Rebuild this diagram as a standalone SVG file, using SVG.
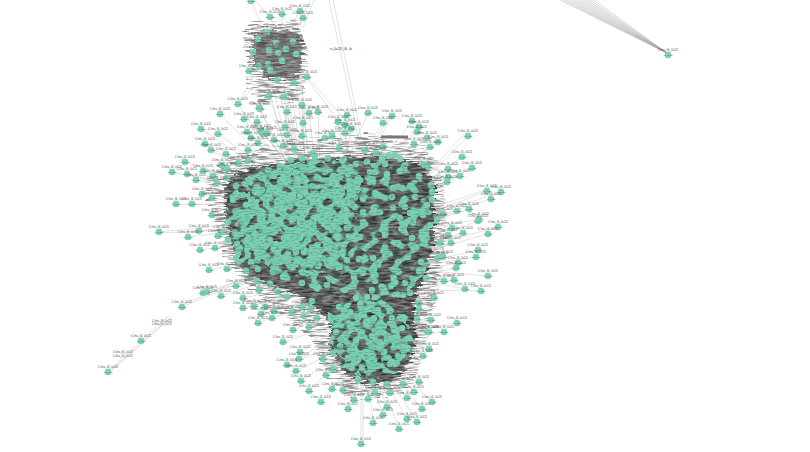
<svg xmlns="http://www.w3.org/2000/svg" width="810" height="452" viewBox="0 0 810 452">
<style>
text{font-family:"Liberation Sans",Arial,sans-serif;text-anchor:middle}
.t{font-size:2.6px;fill:#555}
.c{font-size:2.4px;fill:#3a6a5c}
.e{fill:none;stroke:#cacaca;stroke-width:.55}
.f{fill:none;stroke:#999;stroke-width:.4}
.d{fill:none;stroke:#7bd0b6;stroke-width:6.6;stroke-linecap:round}
</style>
<defs>
<g id="d"><circle r="3.3" fill="#7bd0b6"/><text class="t" y="-4.4">0.1ma_06_4x125</text><text class="c" y=".8">rs_4x12</text></g>
<filter id="hair" x="-15%" y="-15%" width="130%" height="130%" color-interpolation-filters="sRGB">
<feTurbulence type="fractalNoise" baseFrequency=".09 .45" numOctaves="3" seed="4" result="n"/>
<feDisplacementMap in="SourceGraphic" in2="n" scale="14" xChannelSelector="R" yChannelSelector="G" result="s"/>
<feColorMatrix in="n" type="matrix" values=".7 0 0 0 .02 .7 0 0 0 .02 .7 0 0 0 .02 0 0 0 0 1" result="g"/>
<feComposite in="g" in2="s" operator="in"/>
</filter>
<filter id="halo" x="-15%" y="-15%" width="130%" height="130%" color-interpolation-filters="sRGB">
<feTurbulence type="fractalNoise" baseFrequency=".07 .7" numOctaves="2" seed="9" result="n"/>
<feDisplacementMap in="SourceGraphic" in2="n" scale="20" xChannelSelector="R" yChannelSelector="G" result="s"/>
<feColorMatrix in="n" type="matrix" values="0 0 0 0 .55 0 0 0 0 .55 0 0 0 0 .55 4 0 0 0 -1.7" result="g"/>
<feComposite in="g" in2="s" operator="in"/>
</filter>
<filter id="tealA" x="-12%" y="-12%" width="124%" height="124%" color-interpolation-filters="sRGB">
<feTurbulence type="fractalNoise" baseFrequency=".12 .14" numOctaves="1" seed="7" result="n"/>
<feDisplacementMap in="SourceAlpha" in2="n" scale="22" xChannelSelector="G" yChannelSelector="B" result="s"/>
<feColorMatrix in="n" type="matrix" values="0 0 0 0 .482 0 0 0 0 .816 0 0 0 0 .714 14 0 0 0 -6.1" result="g"/>
<feComposite in="g" in2="s" operator="in"/>
</filter>
<filter id="tealB" x="-12%" y="-12%" width="124%" height="124%" color-interpolation-filters="sRGB">
<feTurbulence type="fractalNoise" baseFrequency=".1 .12" numOctaves="1" seed="21" result="n"/>
<feDisplacementMap in="SourceAlpha" in2="n" scale="18" xChannelSelector="G" yChannelSelector="B" result="s"/>
<feColorMatrix in="n" type="matrix" values="0 0 0 0 .482 0 0 0 0 .816 0 0 0 0 .714 14 0 0 0 -7.2" result="g"/>
<feComposite in="g" in2="s" operator="in"/>
</filter>
<filter id="streak" x="0" y="0" width="100%" height="100%" color-interpolation-filters="sRGB">
<feTurbulence type="fractalNoise" baseFrequency=".2 .95" numOctaves="2" seed="12" result="n"/>
<feColorMatrix in="n" type="matrix" values="0 0 0 0 .2 0 0 0 0 .4 0 0 0 0 .35 4 0 0 0 -1.9" result="g"/>
<feComposite in="g" in2="SourceAlpha" operator="in"/>
</filter>
</defs>
<rect width="810" height="452" fill="#fff"/>
<g id="connectors">
<path class="f" d="M667 53L560 0M667 53L563 0M667 53L566 0M667 53L569 0M667 53L572 0M667 53L575 0M667 53L578 0M667 53L581 0M667 53L584 0M667 53L587 0M667 53L590 0M667 53L594 0"/>
<path class="e" d="M329 0L353 110L358 138M333 0L356 110L361 138M307 77L350 125M307 79L345 130M251 1L265 32M310 0L300 25M314 0L303 28M270 17L282 40M303 18L290 40M282 14L280 40M300 11L285 38M255 0L272 20
M272 85L292 165M278 85L296 165M284 85L300 165M290 85L303 165M296 85L306 165M302 85L309 165M268 85L288 160M280 95L298 160M288 95L300 160M249 71L272 50M259 66L238 104M270 70L238 104M277 80L259 108M269 96L290 160M284 97L296 160M302 105L305 160M259 108L285 160
M238 104L285 170M260 109L290 170M220 114L280 175M244 119L285 170M257 122L290 170M201 129L270 175M218 134L275 175M247 132L285 170M251 138L290 172M261 131L295 170M263 134L295 170M267 133L300 170M258 143L290 175M205 144L265 180M211 150L265 182M226 154L270 180M248 150L285 175M185 162L260 185M172 172L255 190M187 174L255 190M196 180L250 190M203 171L255 185M222 165L265 185M176 204L250 205M192 204L250 205M202 194L245 200M212 198L250 205M212 215L245 215M287 112L300 165M302 105L310 165M309 113L315 165M318 112L320 165M303 123L305 165M285 127L305 170M287 135L305 170
M368 113L345 165M392 116L365 165M389 118L360 165M347 115L355 165M383 123L355 165M412 121L375 170M338 122L345 165M345 125L350 165M351 129L345 165M419 127L380 165M417 132L380 165M345 133L348 165M332 136L335 165M427 138L385 175M438 142L390 175M430 147L390 175M414 144L385 170M468 136L420 185M464 134L418 185M462 157L415 190M428 167L400 185M448 169L410 190M472 168L420 195M448 177L405 195M460 176L415 200M447 182L410 195M431 185L405 200M487 191L425 215M485 190L425 210M501 192L430 215M491 199L425 220M457 211L420 225M469 209L420 225M443 214L415 225M479 219L420 230M432 192L405 205
M159 232L225 225M159 233L225 230M199 231L230 228M188 237L230 232M218 236L240 232M223 232L240 230M200 250L235 245M215 248L240 245M209 270L250 262M227 269L255 265M246 271L265 265M203 293L270 270M207 292L275 275M221 296L285 275M236 286L285 275M257 281L290 270M270 284L300 275M259 290L300 280M182 307L265 272M180 306L262 270M243 298L305 285M254 306L310 285M243 308L310 290M265 307L315 290M261 314L325 295M274 311L330 295M272 318L335 295M258 323L325 300M278 292L320 285M287 297L325 290M292 312L335 300M302 307L335 300M304 316L335 305M293 330L340 310M309 327L340 315M317 318L345 310M283 277L310 275
M108 372L141 341M109 373L142 343M141 341L170 315M142 342L172 317M112 370L162 325
M498 227L430 245M488 234L430 250M478 221L430 240M463 233L425 245M452 228L420 240M448 235L425 250M451 243L425 255M440 243L420 250M437 220L420 235M478 250L425 262M476 257L425 265M458 263L420 270M456 268L420 275M443 257L420 265M438 258L420 268M488 276L420 270M465 289L420 280M454 280L420 280M444 281L420 285M481 291L420 290M426 278L415 282M434 298L415 300M419 303L410 305M419 309L410 310M417 319L410 320M431 320L410 325M457 323L415 330M444 332L415 335M429 332L412 335M434 298L425 278M434 298L419 309M434 298L417 319
M283 342L335 325M300 352L335 330M299 359L335 335M323 359L340 340M333 353L345 340M287 365L335 345M296 371L338 350M301 381L340 355M309 391L345 355M326 375L345 360M333 369L350 355M321 402L350 365M332 389L352 365M343 390L355 370M358 380L362 370M348 409L358 375M354 400L360 372M368 399L365 372M375 393L370 372M387 407L372 372M383 415L370 375M373 423L368 378M361 444L361 375M363 444L363 375M399 429L378 370M407 419L380 370M417 422L385 370M422 409L390 368M432 402L395 365M407 398L385 370M414 392L390 365M390 393L380 370M387 384L378 370M403 384L388 365M419 382L395 360M373 382L368 372M429 349L405 340M423 356L405 345M408 348L402 342M428 332L405 332"/>
</g>
<g id="mass">
<path fill="#888" filter="url(#halo)" d="M205 180L240 155L290 142L370 135L425 145L445 180L447 240L440 285L428 340L418 378L395 395L350 395L328 372L312 335L255 292L225 255Z"/>
<path fill="#555" filter="url(#hair)" d="M225 182L252 168L300 160L380 155L418 162L434 185L434 235L428 272L414 298L416 342L408 368L390 382L365 384L345 372L330 350L330 322L300 296L262 280L240 268L230 240L224 205Z"/>
<path fill="#888" filter="url(#halo)" d="M250 24L300 22L310 50L306 92L295 100L260 100L248 85L252 60L245 40Z"/>
<path fill="#666" filter="url(#hair)" opacity=".75" d="M253 32L298 30L304 50L298 78L264 78L253 60Z"/>
<rect x="381" y="135.500" width="27" height="3" fill="#777"/>
<path filter="url(#tealB)" d="M345 168L400 155L432 190L436 232L425 270L405 296L340 300L310 290L290 280L250 268L232 245L228 205L245 175Z"/>
<path id="dense" filter="url(#tealA)" d="M252 176L300 160L348 164L362 185L356 205L350 240L342 264L312 276L285 270L258 264L243 245L237 225L245 198Z"/>
<path filter="url(#tealA)" d="M345 303L387 301L410 325L412 350L397 370L370 380L345 367L330 340L328 320Z"/>
<path class="d" d="M262 178h.01M250 182h.01M236 186h.01M243 195h.01M255 192h.01M233 200h.01M246 205h.01M256 207h.01M238 215h.01M228 222h.01M243 222h.01M252 228h.01M236 235h.01M228 240h.01M247 240h.01M240 248h.01M258 243h.01M248 255h.01M258 258h.01M236 258h.01M268 170h.01M280 166h.01M291 160h.01M302 158h.01M315 156h.01M328 158h.01M342 160h.01M237 244h.01M238 253h.01M256 246h.01M257 253h.01M251 262h.01M238 262h.01M258 269h.01M273 272h.01M279 257h.01M288 263h.01M302 283h.01M317 288h.01M327 285h.01M302 272h.01M263 240h.01M235 233h.01M241 234h.01
M370 172h.01M375 172h.01M367 162h.01M356 164h.01M350 167h.01M382 158h.01M385 164h.01M389 156h.01M395 155h.01M400 159h.01M387 174h.01M373 182h.01M370 182h.01M358 178h.01M352 182h.01M340 177h.01M333 183h.01M357 190h.01M342 193h.01M393 188h.01M402 188h.01M410 186h.01M375 193h.01M392 197h.01M363 199h.01M355 207h.01M380 212h.01M393 208h.01M405 207h.01M415 197h.01M432 200h.01M427 205h.01M410 213h.01M400 218h.01M423 215h.01M373 212h.01M363 212h.01M347 213h.01M363 222h.01M347 228h.01M360 237h.01M385 235h.01M365 248h.01M385 247h.01M402 223h.01M413 223h.01M427 228h.01M430 225h.01M422 232h.01M412 238h.01M398 243h.01M385 257h.01M373 258h.01M359 259h.01M347 260h.01M337 255h.01M363 273h.01M354 277h.01M375 281h.01M394 278h.01M398 272h.01M405 283h.01M391 286h.01M372 290h.01M367 297h.01M356 298h.01M339 307h.01M403 295h.01M410 293h.01M378 265h.01M398 262h.01M408 257h.01M340 267h.01
M268 185h.01M280 180h.01M296 172h.01M310 170h.01M325 172h.01M340 170h.01M270 198h.01M284 194h.01M298 188h.01M312 186h.01M328 184h.01M262 212h.01M276 210h.01M290 206h.01M305 202h.01M320 200h.01M336 200h.01M264 226h.01M278 224h.01M300 222h.01M314 218h.01M330 216h.01M270 240h.01M284 238h.01M300 238h.01M316 232h.01M332 230h.01M278 252h.01M296 252h.01M312 248h.01M328 244h.01M305 262h.01M322 258h.01M262 190h.01M274 176h.01M288 174h.01M304 178h.01M318 178h.01M334 176h.01M348 174h.01M350 190h.01M344 206h.01M340 222h.01M338 238h.01M334 252h.01M318 266h.01M296 264h.01M268 262h.01M254 236h.01M250 216h.01M252 200h.01M266 204h.01M282 202h.01M300 196h.01M316 194h.01M332 192h.01M272 216h.01M286 216h.01M306 212h.01M322 210h.01M268 232h.01M290 230h.01M308 228h.01M324 224h.01M276 244h.01M292 244h.01M308 240h.01M324 238h.01M288 254h.01M304 252h.01M320 250h.01
M338 318h.01M350 312h.01M364 310h.01M378 310h.01M392 318h.01M402 328h.01M336 332h.01M350 326h.01M366 322h.01M384 326h.01M402 342h.01M340 346h.01M356 340h.01M372 336h.01M390 338h.01M348 358h.01M366 352h.01M384 352h.01M398 356h.01M362 368h.01M378 366h.01M390 364h.01M352 368h.01M344 310h.01M358 318h.01M374 318h.01M394 330h.01M342 338h.01M362 332h.01M380 342h.01M396 346h.01M350 350h.01M372 346h.01M374 360h.01M358 360h.01"/>
<path filter="url(#streak)" opacity=".35" fill="#000" d="M232 165L345 155L430 170L438 240L410 296L300 285L240 265L226 210ZM332 305L390 303L412 330L405 366L370 380L340 365L328 325Z"/>
</g>
<g id="n1"><use href="#d" x="668" y="55"/></g><g id="n2"><use href="#d" x="108" y="372"/></g><g id="n3"><use href="#d" x="141" y="341"/></g>
<g id="n4"><use href="#d" x="238" y="104"/></g><g id="n5"><use href="#d" x="260" y="109"/></g><g id="n6"><use href="#d" x="220" y="114"/></g><g id="n7"><use href="#d" x="244" y="119"/></g><g id="n8"><use href="#d" x="257" y="122"/></g><g id="n9"><use href="#d" x="201" y="129"/></g><g id="n10"><use href="#d" x="218" y="134"/></g><g id="n11"><use href="#d" x="247" y="132"/></g><g id="n12"><use href="#d" x="251" y="138"/></g><g id="n13"><use href="#d" x="261" y="131"/></g><g id="n14"><use href="#d" x="263" y="134"/></g><g id="n15"><use href="#d" x="267" y="133"/></g><g id="n16"><use href="#d" x="258" y="143"/></g><g id="n17"><use href="#d" x="205" y="144"/></g><g id="n18"><use href="#d" x="211" y="150"/></g><g id="n19"><use href="#d" x="226" y="154"/></g><g id="n20"><use href="#d" x="248" y="150"/></g><g id="n21"><use href="#d" x="185" y="162"/></g><g id="n22"><use href="#d" x="172" y="172"/></g><g id="n23"><use href="#d" x="187" y="174"/></g><g id="n24"><use href="#d" x="196" y="180"/></g><g id="n25"><use href="#d" x="203" y="171"/></g><g id="n26"><use href="#d" x="222" y="165"/></g><g id="n27"><use href="#d" x="238" y="163"/></g><g id="n28"><use href="#d" x="248" y="161"/></g><g id="n29"><use href="#d" x="213" y="176"/></g><g id="n30"><use href="#d" x="227" y="169"/></g><g id="n31"><use href="#d" x="227" y="178"/></g><g id="n32"><use href="#d" x="217" y="183"/></g><g id="n33"><use href="#d" x="202" y="194"/></g><g id="n34"><use href="#d" x="212" y="198"/></g><g id="n35"><use href="#d" x="176" y="204"/></g><g id="n36"><use href="#d" x="192" y="204"/></g><g id="n37"><use href="#d" x="212" y="215"/></g>
<g id="n38"><use href="#d" x="302" y="105"/></g><g id="n39"><use href="#d" x="309" y="113"/></g><g id="n40"><use href="#d" x="318" y="112"/></g><g id="n41"><use href="#d" x="287" y="112"/></g><g id="n42"><use href="#d" x="303" y="123"/></g><g id="n43"><use href="#d" x="274" y="140"/></g><g id="n44"><use href="#d" x="283" y="146"/></g><g id="n45"><use href="#d" x="294" y="149"/></g><g id="n46"><use href="#d" x="302" y="136"/></g><g id="n47"><use href="#d" x="287" y="135"/></g><g id="n48"><use href="#d" x="285" y="127"/></g><g id="n49"><use href="#d" x="325" y="138"/></g><g id="n50"><use href="#d" x="313" y="153"/></g>
<g id="n51"><use href="#d" x="368" y="113"/></g><g id="n52"><use href="#d" x="392" y="116"/></g><g id="n53"><use href="#d" x="347" y="115"/></g><g id="n54"><use href="#d" x="383" y="123"/></g><g id="n55"><use href="#d" x="412" y="121"/></g><g id="n56"><use href="#d" x="338" y="122"/></g><g id="n57"><use href="#d" x="345" y="125"/></g><g id="n58"><use href="#d" x="351" y="129"/></g><g id="n59"><use href="#d" x="419" y="127"/></g><g id="n60"><use href="#d" x="417" y="132"/></g><g id="n61"><use href="#d" x="345" y="133"/></g><g id="n62"><use href="#d" x="332" y="136"/></g><g id="n63"><use href="#d" x="427" y="138"/></g><g id="n64"><use href="#d" x="438" y="142"/></g><g id="n65"><use href="#d" x="414" y="144"/></g><g id="n66"><use href="#d" x="430" y="147"/></g><g id="n67"><use href="#d" x="468" y="136"/></g><g id="n68"><use href="#d" x="339" y="148"/></g><g id="n69"><use href="#d" x="365" y="150"/></g><g id="n70"><use href="#d" x="383" y="147"/></g><g id="n71"><use href="#d" x="462" y="157"/></g><g id="n72"><use href="#d" x="376" y="153"/></g><g id="n73"><use href="#d" x="428" y="167"/></g><g id="n74"><use href="#d" x="424" y="164"/></g><g id="n75"><use href="#d" x="448" y="169"/></g><g id="n76"><use href="#d" x="472" y="168"/></g><g id="n77"><use href="#d" x="448" y="177"/></g><g id="n78"><use href="#d" x="460" y="176"/></g><g id="n79"><use href="#d" x="447" y="182"/></g><g id="n80"><use href="#d" x="419" y="176"/></g><g id="n81"><use href="#d" x="400" y="171"/></g><g id="n82"><use href="#d" x="431" y="185"/></g><g id="n83"><use href="#d" x="487" y="191"/></g><g id="n84"><use href="#d" x="501" y="192"/></g><g id="n85"><use href="#d" x="491" y="199"/></g><g id="n86"><use href="#d" x="457" y="211"/></g><g id="n87"><use href="#d" x="469" y="209"/></g><g id="n88"><use href="#d" x="443" y="214"/></g><g id="n89"><use href="#d" x="479" y="219"/></g><g id="n90"><use href="#d" x="432" y="192"/></g>
<g id="n91"><use href="#d" x="159" y="232"/></g><g id="n92"><use href="#d" x="199" y="231"/></g><g id="n93"><use href="#d" x="188" y="237"/></g><g id="n94"><use href="#d" x="218" y="236"/></g><g id="n95"><use href="#d" x="223" y="232"/></g><g id="n96"><use href="#d" x="200" y="250"/></g><g id="n97"><use href="#d" x="215" y="248"/></g><g id="n98"><use href="#d" x="209" y="270"/></g><g id="n99"><use href="#d" x="227" y="269"/></g><g id="n100"><use href="#d" x="246" y="271"/></g><g id="n101"><use href="#d" x="203" y="293"/></g><g id="n102"><use href="#d" x="207" y="292"/></g><g id="n103"><use href="#d" x="221" y="296"/></g><g id="n104"><use href="#d" x="236" y="286"/></g><g id="n105"><use href="#d" x="257" y="281"/></g><g id="n106"><use href="#d" x="270" y="284"/></g><g id="n107"><use href="#d" x="259" y="290"/></g><g id="n108"><use href="#d" x="182" y="307"/></g><g id="n109"><use href="#d" x="243" y="298"/></g><g id="n110"><use href="#d" x="254" y="306"/></g><g id="n111"><use href="#d" x="243" y="308"/></g><g id="n112"><use href="#d" x="265" y="307"/></g><g id="n113"><use href="#d" x="261" y="314"/></g><g id="n114"><use href="#d" x="274" y="311"/></g><g id="n115"><use href="#d" x="272" y="318"/></g><g id="n116"><use href="#d" x="258" y="323"/></g><g id="n117"><use href="#d" x="278" y="292"/></g><g id="n118"><use href="#d" x="287" y="297"/></g><g id="n119"><use href="#d" x="292" y="312"/></g><g id="n120"><use href="#d" x="302" y="307"/></g><g id="n121"><use href="#d" x="304" y="316"/></g><g id="n122"><use href="#d" x="293" y="330"/></g><g id="n123"><use href="#d" x="309" y="327"/></g><g id="n124"><use href="#d" x="317" y="318"/></g><g id="n125"><use href="#d" x="311" y="308"/></g><g id="n126"><use href="#d" x="312" y="301"/></g><g id="n127"><use href="#d" x="283" y="277"/></g>
<g id="n128"><use href="#d" x="498" y="227"/></g><g id="n129"><use href="#d" x="488" y="234"/></g><g id="n130"><use href="#d" x="478" y="221"/></g><g id="n131"><use href="#d" x="463" y="233"/></g><g id="n132"><use href="#d" x="452" y="228"/></g><g id="n133"><use href="#d" x="448" y="235"/></g><g id="n134"><use href="#d" x="451" y="243"/></g><g id="n135"><use href="#d" x="440" y="243"/></g><g id="n136"><use href="#d" x="437" y="220"/></g><g id="n137"><use href="#d" x="478" y="250"/></g><g id="n138"><use href="#d" x="476" y="257"/></g><g id="n139"><use href="#d" x="458" y="263"/></g><g id="n140"><use href="#d" x="456" y="268"/></g><g id="n141"><use href="#d" x="443" y="257"/></g><g id="n142"><use href="#d" x="438" y="258"/></g><g id="n143"><use href="#d" x="488" y="276"/></g><g id="n144"><use href="#d" x="465" y="289"/></g><g id="n145"><use href="#d" x="454" y="280"/></g><g id="n146"><use href="#d" x="444" y="281"/></g><g id="n147"><use href="#d" x="481" y="291"/></g><g id="n148"><use href="#d" x="426" y="278"/></g><g id="n149"><use href="#d" x="434" y="298"/></g><g id="n150"><use href="#d" x="419" y="303"/></g><g id="n151"><use href="#d" x="419" y="309"/></g><g id="n152"><use href="#d" x="417" y="319"/></g><g id="n153"><use href="#d" x="431" y="320"/></g><g id="n154"><use href="#d" x="457" y="323"/></g><g id="n155"><use href="#d" x="444" y="332"/></g><g id="n156"><use href="#d" x="429" y="332"/></g><g id="n157"><use href="#d" x="419" y="271"/></g><g id="n158"><use href="#d" x="421" y="262"/></g>
<g id="n159"><use href="#d" x="283" y="342"/></g><g id="n160"><use href="#d" x="300" y="352"/></g><g id="n161"><use href="#d" x="299" y="359"/></g><g id="n162"><use href="#d" x="323" y="359"/></g><g id="n163"><use href="#d" x="333" y="353"/></g><g id="n164"><use href="#d" x="287" y="365"/></g><g id="n165"><use href="#d" x="296" y="371"/></g><g id="n166"><use href="#d" x="301" y="381"/></g><g id="n167"><use href="#d" x="309" y="391"/></g><g id="n168"><use href="#d" x="326" y="375"/></g><g id="n169"><use href="#d" x="333" y="369"/></g><g id="n170"><use href="#d" x="321" y="402"/></g><g id="n171"><use href="#d" x="332" y="389"/></g><g id="n172"><use href="#d" x="343" y="390"/></g><g id="n173"><use href="#d" x="358" y="380"/></g><g id="n174"><use href="#d" x="348" y="409"/></g><g id="n175"><use href="#d" x="354" y="400"/></g><g id="n176"><use href="#d" x="368" y="399"/></g><g id="n177"><use href="#d" x="375" y="393"/></g><g id="n178"><use href="#d" x="387" y="407"/></g><g id="n179"><use href="#d" x="383" y="415"/></g><g id="n180"><use href="#d" x="373" y="423"/></g><g id="n181"><use href="#d" x="361" y="444"/></g><g id="n182"><use href="#d" x="399" y="429"/></g><g id="n183"><use href="#d" x="407" y="419"/></g><g id="n184"><use href="#d" x="417" y="422"/></g><g id="n185"><use href="#d" x="422" y="409"/></g><g id="n186"><use href="#d" x="432" y="402"/></g><g id="n187"><use href="#d" x="407" y="398"/></g><g id="n188"><use href="#d" x="414" y="392"/></g><g id="n189"><use href="#d" x="390" y="393"/></g><g id="n190"><use href="#d" x="387" y="384"/></g><g id="n191"><use href="#d" x="403" y="384"/></g><g id="n192"><use href="#d" x="419" y="382"/></g><g id="n193"><use href="#d" x="373" y="382"/></g><g id="n194"><use href="#d" x="429" y="349"/></g><g id="n195"><use href="#d" x="423" y="356"/></g><g id="n196"><use href="#d" x="408" y="348"/></g><g id="n197"><use href="#d" x="428" y="332"/></g>
<g id="n198"><use href="#d" x="251" y="1"/></g><g id="n199"><use href="#d" x="270" y="17"/></g><g id="n200"><use href="#d" x="282" y="14"/></g><g id="n201"><use href="#d" x="300" y="11"/></g><g id="n202"><use href="#d" x="303" y="18"/></g><g id="n203"><use href="#d" x="267" y="32"/></g><g id="n204"><use href="#d" x="258" y="39"/></g><g id="n205"><use href="#d" x="276" y="43"/></g><g id="n206"><use href="#d" x="293" y="42"/></g><g id="n207"><use href="#d" x="253" y="52"/></g><g id="n208"><use href="#d" x="269" y="50"/></g><g id="n209"><use href="#d" x="278" y="53"/></g><g id="n210"><use href="#d" x="286" y="49"/></g><g id="n211"><use href="#d" x="296" y="54"/></g><g id="n212"><use href="#d" x="282" y="61"/></g><g id="n213"><use href="#d" x="259" y="66"/></g><g id="n214"><use href="#d" x="268" y="64"/></g><g id="n215"><use href="#d" x="270" y="70"/></g><g id="n216"><use href="#d" x="249" y="71"/></g><g id="n217"><use href="#d" x="307" y="77"/></g><g id="n218"><use href="#d" x="277" y="80"/></g><g id="n219"><use href="#d" x="294" y="83"/></g><g id="n220"><use href="#d" x="269" y="96"/></g><g id="n221"><use href="#d" x="284" y="97"/></g><g id="n222"><use href="#d" x="259" y="108"/></g>
<text class="t" x="123" y="353">0.1ma_06_4x125</text><text class="t" x="123" y="357">0.4ma_06_4x125</text><text class="t" x="162" y="322">0.1ma_06_4x125</text><text class="t" x="162" y="325">0.4ma_06_4x125</text>
<text x="341" y="49.500" font-size="3" fill="#333">rs_4x125_06_4x</text>
</svg>
